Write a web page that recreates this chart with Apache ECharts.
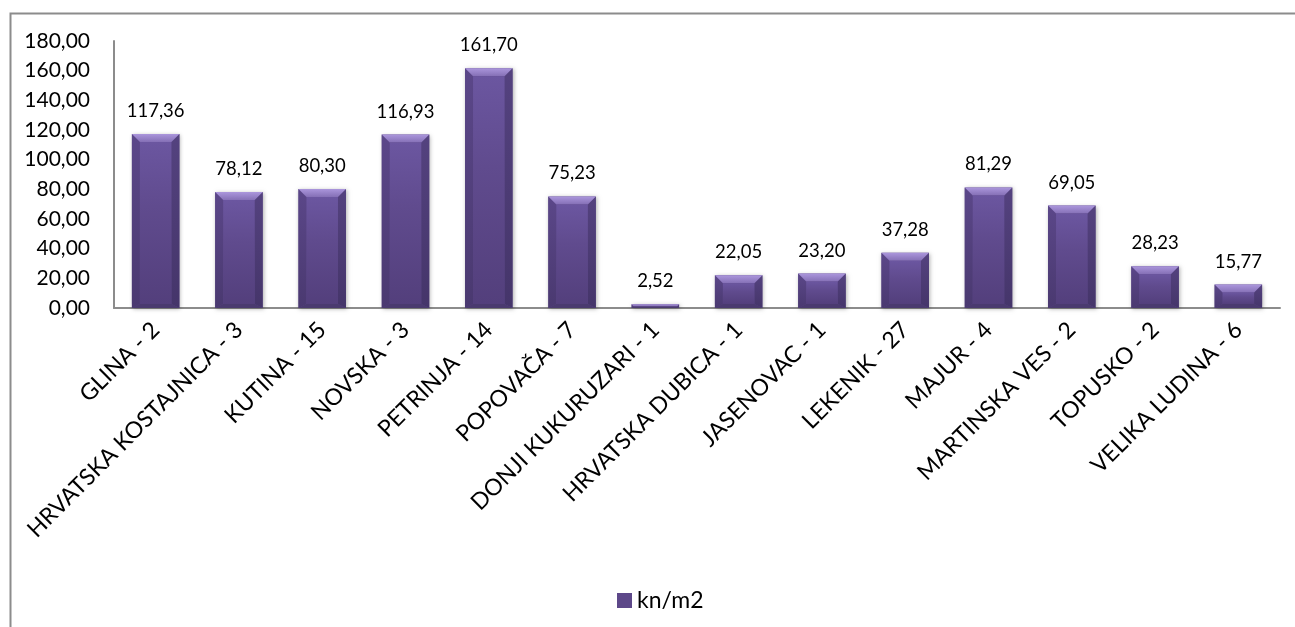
<!DOCTYPE html>
<html>
<head>
<meta charset="utf-8">
<script src="https://cdn.jsdelivr.net/npm/echarts@6/dist/echarts.min.js"></script>
<style>
  html, body { margin: 0; padding: 0; background: #fff; }
  #chart { width: 1295px; height: 627px; }
</style>
</head>
<body>
<div id="chart"></div>
<script>
// Average price per area by municipality (label shows the number of entries)
const categories = [
  'GLINA - 2', 'HRVATSKA KOSTAJNICA - 3', 'KUTINA - 15', 'NOVSKA - 3',
  'PETRINJA - 14', 'POPOVAČA - 7', 'DONJI KUKURUZARI - 1', 'HRVATSKA DUBICA - 1',
  'JASENOVAC - 1', 'LEKENIK - 27', 'MAJUR - 4', 'MARTINSKA VES - 2',
  'TOPUSKO - 2', 'VELIKA LUDINA - 6'
];
const values = [117.36, 78.12, 80.30, 116.93, 161.70, 75.23, 2.52, 22.05, 23.20, 37.28, 81.29, 69.05, 28.23, 15.77];
const seriesName = 'kn/m2';
const yTicks = { min: 0, max: 180, interval: 20 };

const FONT = 'Lato';
const fmt = v => v.toFixed(2).replace('.', ',');

// Bevelled bar: body plus lighter top edge and slightly darker side/bottom edges
function renderBevelBar(params, api) {
  const idx = api.value(0);
  const val = api.value(1);
  const top = api.coord([idx, val]);
  const base = api.coord([idx, 0]);
  const bandW = api.size([1, 0])[0];
  const w = bandW * 0.57;
  const x = top[0] - w / 2;
  const y = top[1];
  const h = base[1] - top[1];
  const b = Math.min(8, h / 2, w / 4);
  const bb = Math.min(4, h / 2);
  const children = [
    { type: 'rect', shape: { x: x, y: y, width: w, height: h },
      style: { fill: '#5a4686', shadowBlur: 4, shadowColor: 'rgba(0,0,0,0.3)', shadowOffsetX: 1, shadowOffsetY: 1 } },
    { type: 'polygon', shape: { points: [[x, y], [x + b, y + b], [x + b, y + h - bb], [x, y + h]] },
      style: { fill: new echarts.graphic.LinearGradient(0, 0, 0, 1, [
        { offset: 0, color: '#5b4789' }, { offset: 1, color: '#4a3970' }]) } },
    { type: 'polygon', shape: { points: [[x + w, y], [x + w - b, y + b], [x + w - b, y + h - bb], [x + w, y + h]] },
      style: { fill: new echarts.graphic.LinearGradient(0, 0, 0, 1, [
        { offset: 0, color: '#54427f' }, { offset: 1, color: '#45356a' }]) } },
    { type: 'polygon', shape: { points: [[x, y + h], [x + w, y + h], [x + w - b, y + h - bb], [x + b, y + h - bb]] },
      style: { fill: '#4a3a6f' } },
    { type: 'polygon', shape: { points: [[x, y], [x + w, y], [x + w - b, y + b], [x + b, y + b]] },
      style: { fill: new echarts.graphic.LinearGradient(0, 0, 0, 1, [
        { offset: 0, color: '#ab96dc' }, { offset: 1, color: '#8570b6' }]) } },
    { type: 'rect', shape: { x: x + b, y: y + b, width: Math.max(0, w - 2 * b), height: Math.max(0, h - b - bb) },
      style: { fill: new echarts.graphic.LinearGradient(0, 0, 0, 1, [
        { offset: 0, color: '#6b56a0' }, { offset: 0.4, color: '#604b8e' }, { offset: 1, color: '#533f7c' }]) } },
    { type: 'text',
      style: { text: fmt(val), x: top[0], y: y - 23, align: 'center', verticalAlign: 'middle',
               fill: '#000', fontFamily: FONT, fontSize: 18.5 } }
  ];
  return { type: 'group', children: children };
}

const chart = echarts.init(document.getElementById('chart'), null, { renderer: 'canvas' });
chart.setOption({
  animation: false,
  backgroundColor: '#fff',
  graphic: [{
    type: 'rect', left: 8, top: 11, z: -1,
    shape: { width: 1300, height: 640 },
    style: { fill: 'none', stroke: '#8c8c8c', lineWidth: 2 }
  }],
  grid: { left: 114, right: 15, top: 41, bottom: 319, containLabel: false },
  legend: {
    data: [{ name: seriesName, icon: 'rect' }],
    left: 612, top: 584,
    itemWidth: 15, itemHeight: 15, itemGap: 6,
    textStyle: { fontFamily: FONT, fontSize: 23, color: '#000' }
  },
  xAxis: {
    type: 'category',
    data: categories,
    axisLine: { lineStyle: { color: '#8c8c8c', width: 2 } },
    axisTick: { show: false },
    axisLabel: { rotate: 45, interval: 0, margin: 18, color: '#000', fontFamily: FONT, fontSize: 23 }
  },
  yAxis: {
    type: 'value',
    min: yTicks.min, max: yTicks.max, interval: yTicks.interval,
    axisLine: { show: true, lineStyle: { color: '#8c8c8c', width: 2 } },
    axisTick: { show: false },
    splitLine: { show: false },
    axisLabel: { formatter: v => fmt(v), color: '#000', fontFamily: FONT, fontSize: 21, margin: 24 }
  },
  series: [{
    name: seriesName,
    type: 'custom',
    renderItem: renderBevelBar,
    itemStyle: { color: '#5d4889' },
    encode: { x: 0, y: 1 },
    data: values.map((v, i) => [i, v])
  }]
});
</script>
</body>
</html>
